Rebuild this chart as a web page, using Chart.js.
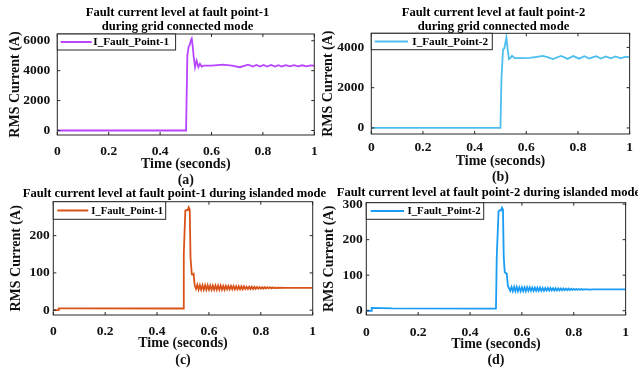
<!DOCTYPE html>
<html>
<head>
<meta charset="utf-8">
<script src="https://cdn.jsdelivr.net/npm/chart.js@4.4.1/dist/chart.umd.min.js"></script>
<style>
  body { margin: 0; background: #fff; }
  #wrap { position: relative; width: 638px; height: 369px; overflow: hidden; }
  canvas { position: absolute; left: 0; top: 0; }
  .ttl {
    position: absolute; white-space: nowrap; text-align: center;
    transform: translateX(-50%);
    font: bold 12.6px 'Liberation Serif', 'DejaVu Serif', serif;
    line-height: 14.4px; color: #000;
  }
</style>
</head>
<body>
<div id="wrap">
  <canvas id="cA" width="638" height="369"></canvas>
  <canvas id="cB" width="638" height="369"></canvas>
  <canvas id="cC" width="638" height="369"></canvas>
  <canvas id="cD" width="638" height="369"></canvas>
  <div class="ttl" style="left:177.5px;top:5px">Fault current level at fault point-1<br>during grid connected mode</div>
  <div class="ttl" style="left:493.5px;top:4.5px">Fault current level at fault point-2<br>during grid connected mode</div>
  <div class="ttl" style="left:174.5px;top:186px">Fault current level at fault point-1 during islanded mode</div>
  <div class="ttl" style="left:488.5px;top:184.5px">Fault current level at fault point-2 during islanded mode</div>
</div>
<script>
// ── Data (time in s, RMS current in A) ─────────────────────────────────
const xTicks = [0, 0.2, 0.4, 0.6, 0.8, 1];

// (a) fault point-1, grid connected
const tA = [0, 0.501, 0.506, 0.511, 0.516, 0.52, 0.523, 0.527, 0.531, 0.536, 0.542, 0.549, 0.555, 0.562, 0.57,
  0.6, 0.645, 0.68, 0.71, 0.743, 0.761, 0.775, 0.789, 0.803, 0.816, 0.832, 0.847, 0.86, 0.873, 0.889,
  0.905, 0.921, 0.937, 0.953, 0.97, 0.985, 1];
const iA = [0, 0, 5000, 5600, 5750, 6050, 6150, 5600, 4900, 4230, 4670, 4230, 4450, 4270, 4330,
  4330, 4400, 4330, 4230, 4400, 4270, 4380, 4270, 4380, 4270, 4380, 4280, 4370, 4280, 4370,
  4290, 4370, 4290, 4360, 4290, 4350, 4330];
const yTicksA = [0, 2000, 4000, 6000];

// (b) fault point-2, grid connected
const tB = [0, 0.5, 0.504, 0.51, 0.515, 0.52, 0.523, 0.527, 0.533, 0.539, 0.545, 0.555, 0.58, 0.613,
  0.64, 0.664, 0.685, 0.703, 0.72, 0.735, 0.76, 0.782, 0.805, 0.825, 0.844, 0.87, 0.889, 0.908,
  0.927, 0.946, 0.965, 0.985, 1];
const iB = [0, 0, 2500, 3900, 3950, 4300, 4500, 4000, 3420, 3480, 3580, 3470, 3470, 3480,
  3530, 3580, 3500, 3420, 3510, 3580, 3430, 3570, 3440, 3560, 3450, 3560, 3450, 3550,
  3460, 3550, 3460, 3540, 3510];
const yTicksB = [0, 2000, 4000];

// (c) fault point-1, islanded
const tC = [0, 0.02, 0.021, 0.1, 0.5, 0.503, 0.509, 0.514, 0.518, 0.522, 0.526, 0.529, 0.534, 0.538, 0.541, 0.545,
  0.55, 0.555, 0.56, 0.565, 0.57, 0.575, 0.58, 0.585, 0.59, 0.595, 0.6, 0.605, 0.61, 0.615, 0.62, 0.625,
  0.63, 0.635, 0.64, 0.645, 0.65, 0.655, 0.66, 0.665, 0.67, 0.675, 0.68, 0.685, 0.69, 0.695, 0.7,
  0.705, 0.71, 0.715, 0.72, 0.725, 0.73, 0.735, 0.74, 0.745, 0.75, 0.755, 0.76, 0.765, 0.77, 0.775,
  0.78, 0.785, 0.79, 0.795, 0.8, 0.805, 0.81, 0.815, 0.82, 0.825, 0.83, 0.835, 0.84, 0.845, 0.85,
  0.855, 0.86, 0.865, 0.87, 0.875, 0.88, 0.885, 0.89, 0.9, 1];
const iC = [0, 0, 5, 5, 4.5, 150, 267, 269, 268, 276, 270, 140, 96, 95, 97, 67,
  57, 68, 55, 67, 55, 67, 55, 67, 55, 67, 55, 66, 55, 66, 55, 66,
  55, 66, 55, 66, 55, 65, 55, 65, 56, 65, 56, 65, 56, 65, 56,
  64, 56, 64, 56, 64, 56, 64, 57, 63, 57, 63, 57, 63, 57, 63,
  57, 62, 58, 62, 58, 62, 58, 62, 58, 61.5, 58.5, 61.5, 58.5, 61, 59,
  61, 59, 60.5, 59.5, 60.5, 59.5, 60.3, 59.7, 60, 60];
const yTicksC = [0, 100, 200];

// (d) fault point-2, islanded
const tD = [0, 0.02, 0.021, 0.1, 0.5, 0.503, 0.51, 0.515, 0.519, 0.523, 0.527, 0.53, 0.534, 0.539, 0.542, 0.546,
  0.55, 0.555, 0.56, 0.565, 0.57, 0.575, 0.58, 0.585, 0.59, 0.595, 0.6, 0.605, 0.61, 0.615, 0.62, 0.625,
  0.63, 0.635, 0.64, 0.645, 0.65, 0.655, 0.66, 0.665, 0.67, 0.675, 0.68, 0.685, 0.69, 0.695, 0.7,
  0.705, 0.71, 0.715, 0.72, 0.725, 0.73, 0.735, 0.74, 0.745, 0.75, 0.755, 0.76, 0.765, 0.77, 0.775,
  0.78, 0.785, 0.79, 0.795, 0.8, 0.805, 0.81, 0.815, 0.82, 0.825, 0.83, 0.835, 0.84, 0.845, 0.85,
  0.855, 0.86, 0.865, 0.87, 0.88, 1];
const iD = [0, 0, 8, 6.5, 6, 150, 280, 283, 282, 290, 285, 150, 108, 106, 100, 70,
  64, 56, 67, 55, 67, 55, 67, 55, 66, 55, 66, 55, 66, 55, 66, 56,
  66, 56, 65, 56, 65, 56, 65, 56, 65, 56, 64, 56, 64, 57, 64,
  57, 64, 57, 63, 57, 63, 57, 63, 57.5, 62.5, 57.5, 62.5, 58, 62, 58,
  62, 58, 62, 58.5, 61.5, 58.5, 61.5, 58.5, 61, 59, 61, 59, 60.5, 59.5, 60.5,
  59.5, 60.3, 59.7, 60.2, 60, 60];
const yTicksD = [0, 100, 200, 300];

// ── Layout of the four panels (plot box in page pixels) ─────────────
const FONT = "'Liberation Serif', 'DejaVu Serif', serif";
const panels = [
  { id: 'cA', t: tA, v: iA, label: 'I_Fault_Point-1', color: '#B845FF', yTicks: yTicksA, ymin: -300, ymax: 6450,
    box: { l: 57.3, t: 34, r: 314.3, b: 135 }, ytx: 15.8, cap: '(a)', capY: 180.3, xtp: 8, ytp: 7,
    leg: { w: 118.3, h: 16, x1: 3.4, x2: 34.4, tx: 36, fs: 11.2 } },
  { id: 'cB', t: tB, v: iB, label: 'I_Fault_Point-2', color: '#4DBEEE', yTicks: yTicksB, ymin: -300, ymax: 4700,
    box: { l: 371.3, t: 33.3, r: 630.3, b: 134 }, ytx: 328.8, cap: '(b)', capY: 177.5, xtp: 5, ytp: 7,
    leg: { w: 121, h: 16.4, x1: 3.4, x2: 36.7, tx: 41, fs: 11.2 } },
  { id: 'cC', t: tC, v: iC, label: 'I_Fault_Point-1', color: '#D95319', yTicks: yTicksC, ymin: -13, ymax: 291,
    box: { l: 53.3, t: 201.7, r: 312.7, b: 315 }, ytx: 16.7, cap: '(c)', capY: 360, xtp: 8, ytp: 3.5,
    leg: { w: 112.4, h: 17.6, x1: 4, x2: 35, tx: 38, fs: 10.6 } },
  { id: 'cD', t: tD, v: iD, label: 'I_Fault_Point-2', color: '#1A9CF5', yTicks: yTicksD, ymin: -12, ymax: 304,
    box: { l: 366.3, t: 202.7, r: 629, b: 315 }, ytx: 329.7, cap: '(d)', capY: 360.3, xtp: 9, ytp: 3.5,
    leg: { w: 117.4, h: 16.6, x1: 4.4, x2: 37.7, tx: 41.2, fs: 10.8 } },
];

// MATLAB-style box: frame + inward ticks on all four sides
const framePlugin = {
  id: 'frame',
  afterDatasetsDraw(chart) {
    const { ctx, chartArea: a, scales } = chart;
    ctx.save();
    ctx.strokeStyle = '#262626';
    ctx.lineWidth = 1;
    ctx.strokeRect(a.left, a.top, a.right - a.left, a.bottom - a.top);
    const len = 3;
    ctx.beginPath();
    scales.x.ticks.forEach(tk => {
      const px = scales.x.getPixelForValue(tk.value);
      ctx.moveTo(px, a.bottom); ctx.lineTo(px, a.bottom - len);
      ctx.moveTo(px, a.top); ctx.lineTo(px, a.top + len);
    });
    scales.y.ticks.forEach(tk => {
      const py = scales.y.getPixelForValue(tk.value);
      ctx.moveTo(a.left, py); ctx.lineTo(a.left + len, py);
      ctx.moveTo(a.right, py); ctx.lineTo(a.right - len, py);
    });
    ctx.stroke();
    ctx.restore();
  }
};

// legend box tucked into the top-left corner of the axes
const boxLegendPlugin = {
  id: 'boxLegend',
  afterDraw(chart, args, opts) {
    const { ctx, chartArea: a } = chart;
    const ds = chart.data.datasets[0];
    const x = a.left, y = a.top, cy = y + opts.h / 2;
    ctx.save();
    ctx.fillStyle = '#fff';
    ctx.fillRect(x, y, opts.w, opts.h);
    ctx.strokeStyle = '#262626';
    ctx.lineWidth = 1;
    ctx.strokeRect(x, y, opts.w, opts.h);
    ctx.strokeStyle = ds.borderColor;
    ctx.lineWidth = 2;
    ctx.beginPath();
    ctx.moveTo(x + opts.x1, cy); ctx.lineTo(x + opts.x2, cy);
    ctx.stroke();
    ctx.fillStyle = '#000';
    ctx.font = `bold ${opts.fs}px ${FONT}`;
    ctx.textBaseline = 'middle';
    ctx.textAlign = 'left';
    ctx.fillText(ds.label, x + opts.tx, cy + 0.5);
    ctx.restore();
  }
};

function buildPanel(p) {
  const b = p.box;
  const xBottom = p.capY + 8.2;        // bottom edge of the x-axis block
  const padLeft = p.ytx - 8.4;         // y title centre minus half its line height

  new Chart(document.getElementById(p.id), {
    type: 'line',
    data: {
      datasets: [{
        label: p.label,
        data: p.t.map((x, i) => ({ x, y: p.v[i] })),
        borderColor: p.color,
        borderWidth: 1.8,
        pointRadius: 0,
        tension: 0,
        fill: false,
      }]
    },
    options: {
      responsive: false,
      animation: false,
      layout: { padding: { left: padLeft, top: b.t, right: 638 - b.r, bottom: 369 - xBottom } },
      plugins: {
        legend: { display: false },
        tooltip: { enabled: false },
        boxLegend: p.leg,
      },
      scales: {
        x: {
          type: 'linear', min: 0, max: 1,
          grid: { display: false, drawTicks: false }, border: { display: false },
          afterBuildTicks: s => { s.ticks = xTicks.map(v => ({ value: v })); },
          afterFit: s => { s.height = xBottom - b.b; },
          ticks: {
            padding: p.xtp, color: '#111', maxRotation: 0, autoSkip: false,
            font: { family: FONT, size: 13.5, weight: 'bold' },
            callback: v => String(v),
          },
          title: {
            display: true, text: ['Time (seconds)', p.cap], padding: 0, color: '#111',
            font: { family: FONT, size: 14, weight: 'bold', lineHeight: '16.4px' },
          },
        },
        y: {
          type: 'linear', min: p.ymin, max: p.ymax,
          grid: { display: false, drawTicks: false }, border: { display: false },
          afterBuildTicks: s => { s.ticks = p.yTicks.map(v => ({ value: v })); },
          afterFit: s => { s.width = b.l - padLeft; },
          ticks: {
            padding: p.ytp, color: '#111', autoSkip: false,
            font: { family: FONT, size: 13.5, weight: 'bold' },
            callback: v => String(v),
          },
          title: {
            display: true, text: 'RMS Current (A)', padding: 0, color: '#111',
            font: { family: FONT, size: 14, weight: 'bold', lineHeight: '16.8px' },
          },
        },
      },
    },
    plugins: [framePlugin, boxLegendPlugin],
  });
}

panels.forEach(buildPanel);
</script>
</body>
</html>
